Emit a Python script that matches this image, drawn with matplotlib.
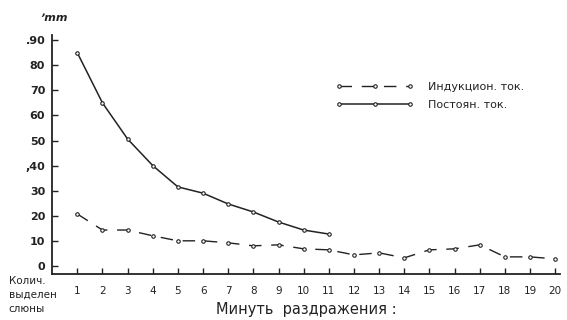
import matplotlib.pyplot as plt

minutes = list(range(1, 21))
induct = [20.7, 14.3, 14.3, 12, 10, 10, 9.2, 8, 8.4, 6.8, 6.4, 4.4, 5.2, 3.2, 6.4, 6.8, 8.4, 3.6, 3.6, 2.8]
const_min = list(range(1, 12))
const = [85, 65, 50.6, 40, 31.5, 29, 24.7, 21.5, 17.5, 14.3, 12.7]
yticks = [0, 10, 20, 30, 40, 50, 60, 70, 80, 90]
yticklabels = ["0", "10", "20", "30", ",40", "50", "60", "70", "80", ".90"]

fig = plt.figure(figsize=(5.67, 3.2), dpi=100)
ax = fig.add_axes([0.092, 0.144, 0.896, 0.746])

ax.plot(minutes, induct, color="#222222", lw=1.0, dashes=(9, 7),
        marker="o", ms=2.5, mfc="white", mec="#222222", mew=0.8,
        label="Индукцион. ток.")
ax.plot(const_min, const, color="#222222", lw=1.1,
        marker="o", ms=2.5, mfc="white", mec="#222222", mew=0.8,
        label="Постоян. ток.")

ax.set_xlim(0, 20.2)
ax.set_ylim(-3.2, 92)
ax.set_xticks(minutes)
ax.set_xticklabels([str(m) for m in minutes], fontsize=7.5)
ax.set_yticks(yticks)
ax.set_yticklabels(yticklabels, fontsize=8, fontweight="bold")
ax.tick_params(axis="both", direction="in", length=4, width=1, color="#222222", labelcolor="#222222")
ax.tick_params(axis="x", pad=9)
ax.tick_params(axis="y", pad=5)
for s in ["top", "right"]:
    ax.spines[s].set_visible(False)
for s in ["left", "bottom"]:
    ax.spines[s].set_linewidth(1.3)
    ax.spines[s].set_color("#222222")

ax.set_xlabel("Минуть  раздражения :", fontsize=10.5, color="#222222", labelpad=4)
fig.text(0.07, 0.935, "ʼmm", fontsize=8, style="italic", fontweight="bold", color="#222222")
fig.text(0.015, 0.02, "Колич.\nвыделен\nслюны", fontsize=7.5, color="#222222",
         ha="left", va="bottom", linespacing=1.45)

ax.legend(loc="upper left", bbox_to_anchor=(0.575, 0.775), bbox_transform=fig.transFigure,
          frameon=False, handlelength=7, fontsize=8, labelspacing=0.75, handletextpad=1.3,
          numpoints=3, labelcolor="#222222")

fig.savefig("out.png", dpi=100, facecolor="white")
